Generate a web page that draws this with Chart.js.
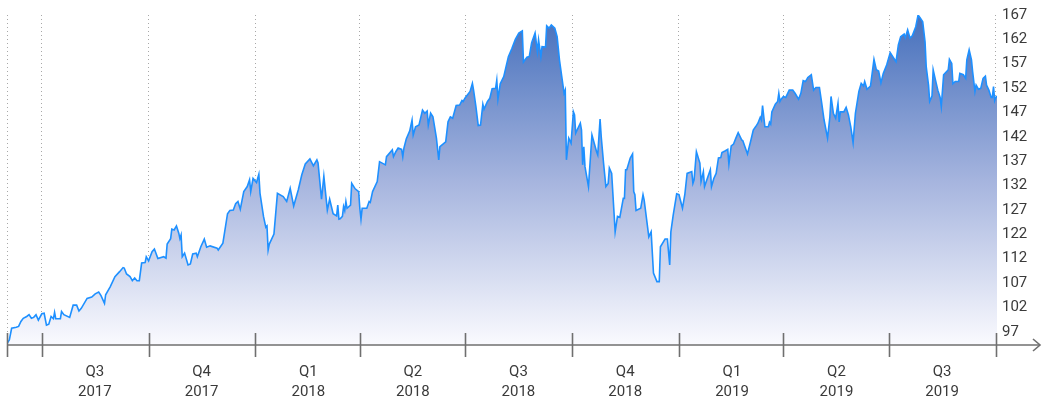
<!DOCTYPE html>
<html>
<head>
<meta charset="utf-8">
<script src="https://cdn.jsdelivr.net/npm/chart.js@4.4.1/dist/chart.umd.min.js"></script>
<style>
html,body{margin:0;padding:0;background:#fff;}
#wrap{width:1042px;height:402px;position:relative;}
</style>
</head>
<body>
<div id="wrap"><canvas id="c"></canvas></div>
<script>
// Day offsets counted from the series start date
const startDate = '2017-06-01';
const days = [
  0,2,4,8,10,12,14,17,19,21,
  23,25,27,30,32,34,36,38,40,41,
  42,46,47,49,54,57,60,62,64,69,
  73,76,79,81,84,85,89,93,97,100,
  101,103,106,108,110,112,114,116,119,120,
  122,125,127,130,135,137,138,141,142,144,
  146,148,149,150,151,153,156,158,160,163,
  164,167,170,172,175,181,182,186,190,192,
  195,197,199,201,204,207,209,210,212,215,
  217,218,221,223,224,225,226,230,233,238,
  241,244,247,251,254,257,261,264,267,268,
  271,273,276,278,281,284,285,286,287,289,
  290,291,292,293,296,297,300,303,304,305,
  306,310,312,313,315,319,321,326,327,332,
  333,335,337,340,341,342,344,347,349,350,
  352,355,358,360,362,363,365,367,370,372,
  373,378,380,382,384,387,390,392,393,395,
  399,401,402,404,406,408,410,411,414,416,
  418,421,422,423,425,428,430,432,435,438,
  441,444,445,448,450,452,455,457,458,460,
  461,464,465,467,469,472,474,476,478,480,
  481,482,484,486,488,489,490,494,495,496,
  497,498,501,504,508,509,511,512,514,516,
  518,519,521,524,526,528,531,532,533,534,
  537,539,540,541,542,546,548,549,553,555,
  557,560,562,563,567,569,571,572,574,577,
  579,582,584,586,590,591,592,594,597,598,
  600,601,606,607,609,611,613,615,616,619,
  621,622,624,626,628,630,633,634,638,641,
  643,645,647,649,650,651,653,656,657,658,
  659,662,664,665,666,667,669,671,674,677,
  679,682,684,686,688,690,693,695,697,700,
  702,704,707,709,710,712,714,716,717,718,
  721,723,725,727,729,731,734,736,738,739,
  741,744,747,749,751,753,755,758,761,766,
  768,770,773,774,776,778,780,783,785,787,
  789,791,792,794,795,797,798,800,802,804,
  805,807,810,811,812,814,815,817,820,821,
  824,826,827,829,831,832,834,835,837,839,
  841,843,844,846,848,849,850,851,852,853
];
const prices = [
  94.4,95.2,97.8,98.0,98.2,99.3,100.0,100.4,100.8,100.0,
  100.2,100.8,99.6,101.0,101.1,98.5,98.7,100.4,99.9,101.3,
  99.9,99.9,101.5,100.8,100.2,102.9,102.9,101.6,102.2,104.4,
  104.7,105.4,105.8,105.0,103.3,105.2,107.0,109.2,110.3,111.2,
  111.1,109.8,109.2,108.3,108.9,108.3,108.3,112.2,112.3,113.6,
  112.7,114.7,115.3,113.2,113.6,113.3,116.4,117.6,119.7,119.5,
  120.4,118.8,117.6,118.4,113.6,114.4,111.8,112.0,114.2,114.4,
  113.6,115.8,117.5,115.7,116.0,115.5,115.1,116.6,123.1,123.8,
  123.9,125.3,125.8,124.1,128.0,129.1,130.6,128.0,130.9,130.0,
  131.8,127.6,122.5,120.1,120.4,115.1,116.4,118.6,127.6,126.9,
  125.8,128.7,124.8,128.4,131.7,134.1,135.2,133.7,135.0,134.3,
  126.3,131.4,123.9,126.3,123.1,122.6,125.0,121.9,122.0,122.5,
  124.7,123.8,125.8,124.3,125.0,129.8,128.6,128.0,124.3,121.9,
  124.3,124.3,125.8,125.6,128.0,130.2,134.6,133.9,135.7,137.2,
  135.7,136.8,137.6,137.3,135.7,137.6,139.6,141.4,143.8,140.5,
  142.3,142.7,146.0,145.3,145.8,142.7,145.3,144.5,139.8,135.0,
  137.9,139.0,143.4,144.5,144.2,147.0,147.1,148.1,147.9,148.8,
  150.1,151.9,150.4,146.8,142.6,142.7,147.3,146.2,147.9,148.6,
  150.7,150.8,152.6,148.4,151.8,153.4,155.6,157.8,159.6,161.6,
  163.0,163.5,156.6,157.7,157.8,160.8,163.0,158.9,161.5,157.8,
  160.0,159.9,164.6,164.1,164.8,164.1,162.2,157.1,153.4,149.7,
  150.4,135.0,139.8,138.7,145.6,144.9,140.9,143.1,141.6,133.9,
  137.9,133.5,129.1,140.5,136.8,136.1,144.0,140.1,134.3,129.1,
  129.8,133.2,132.0,119.1,122.5,122.3,126.5,126.5,132.8,132.8,
  135.4,136.3,128.0,127.3,123.8,124.3,127.3,126.1,118.0,119.1,
  110.0,108.1,108.1,115.8,117.5,117.5,111.8,119.1,122.8,127.5,
  127.3,124.3,127.3,132.0,132.4,129.8,130.6,136.8,134.3,130.2,
  132.4,129.1,132.8,129.1,130.9,132.0,135.4,135.5,136.6,137.0,
  137.3,134.1,138.1,138.5,139.8,141.0,139.4,139.2,136.3,139.4,
  141.6,142.3,143.1,144.4,143.8,147.0,142.3,142.3,143.3,142.9,
  145.6,147.3,147.9,149.7,147.9,148.4,149.0,148.8,150.4,150.4,
  149.7,148.4,149.7,152.5,152.3,153.2,153.8,150.4,151.0,151.0,
  147.5,143.8,139.8,144.5,149.0,145.3,144.2,147.5,143.4,145.6,
  145.6,146.6,144.9,142.3,138.8,145.3,150.1,151.9,151.3,152.3,
  150.6,151.3,157.2,154.9,154.6,152.0,154.1,156.0,158.7,156.7,
  160.4,162.2,162.8,162.0,163.7,161.9,162.4,164.4,167.0,166.3,
  165.5,161.1,155.6,151.5,147.9,149.1,154.9,152.6,150.4,148.8,
  146.8,153.8,154.6,154.9,157.2,156.3,151.8,152.3,152.3,154.1,
  153.8,153.0,157.1,159.3,157.1,154.5,150.1,151.5,150.6,150.8,
  153.0,153.5,151.5,150.4,148.8,148.8,151.2,148.1,148.8,149.1
];

// Quarter boundaries (day offsets from startDate) and their labels
const boundaryDays = [0, 30, 122, 214, 304, 395, 487, 579, 669, 760, 852];
const quarterNames = ['Q3','Q4','Q1','Q2','Q3','Q4','Q1','Q2','Q3'];
const quarterYears = ['2017','2017','2018','2018','2018','2018','2019','2019','2019'];

// Right-hand axis labels, top to bottom (as printed in the original)
const yTickLabels = ['167','162','157','152','147','142','137','132','127','122','112','107','102','97'];
const yTopValue = 167;
const yBottomLabelValue = 97;
const yAxisMin = 94.1;

const yTickValues = yTickLabels.map((_, i) =>
  yBottomLabelValue + i * (yTopValue - yBottomLabelValue) / (yTickLabels.length - 1));

const FONT = "Roboto, 'Noto Sans', 'DejaVu Sans', sans-serif";
const TEXT = '#3a3a3a';
const AXIS = '#6f6f6f';

const axisPlugin = {
  id: 'axisArrow',
  afterDatasetsDraw(chart) {
    const { ctx, chartArea, scales } = chart;
    const xs = scales.x;
    const y0 = chartArea.bottom;
    ctx.save();
    ctx.strokeStyle = AXIS;
    ctx.lineWidth = 1.6;
    ctx.beginPath();
    ctx.moveTo(chartArea.left, y0);
    ctx.lineTo(chart.width - 2, y0);
    ctx.stroke();
    ctx.beginPath();
    ctx.moveTo(chart.width - 9, y0 - 6);
    ctx.lineTo(chart.width - 2, y0);
    ctx.lineTo(chart.width - 9, y0 + 6);
    ctx.stroke();
    xs.ticks.forEach(t => {
      const px = Math.round(xs.getPixelForValue(t.value)) + 0.5;
      ctx.beginPath();
      ctx.moveTo(px, y0 - 12);
      ctx.lineTo(px, y0 + 12);
      ctx.stroke();
    });
    ctx.restore();
  }
};

new Chart(document.getElementById('c'), {
  type: 'line',
  data: {
    datasets: [{
      data: days.map((d, i) => ({ x: d, y: prices[i] })),
      borderColor: 'rgb(30,144,255)',
      borderWidth: 1.6,
      pointRadius: 0,
      tension: 0,
      fill: 'start',
      backgroundColor: (context) => {
        const chart = context.chart;
        const area = chart.chartArea;
        if (!area) return 'rgba(0,0,0,0)';
        const g = chart.ctx.createLinearGradient(0, area.top, 0, area.bottom);
        g.addColorStop(0, 'rgb(70,112,188)');
        g.addColorStop(0.5, 'rgb(165,180,222)');
        g.addColorStop(1, 'rgb(250,250,254)');
        return g;
      }
    }]
  },
  options: {
    responsive: true,
    maintainAspectRatio: false,
    animation: false,
    layout: { padding: { left: 7, top: 15, right: 0, bottom: 0 } },
    plugins: { legend: { display: false }, tooltip: { enabled: false } },
    scales: {
      x: {
        type: 'linear',
        min: 0,
        max: days[days.length - 1],
        afterBuildTicks: (scale) => { scale.ticks = boundaryDays.map(v => ({ value: v })); },
        afterFit: (scale) => { scale.height = 57; scale.paddingLeft = 0; scale.paddingRight = 0; },
        grid: { display: true, color: '#a8a8a8', lineWidth: 1, drawTicks: false },
        border: { display: false, dash: [1, 3] },
        ticks: {
          autoSkip: false,
          maxRotation: 0,
          minRotation: 0,
          labelOffset: 53,
          padding: 17,
          color: TEXT,
          font: { family: FONT, size: 15, lineHeight: 1.33 },
          callback: (v, i) => (i >= 1 && i <= quarterNames.length) ? [quarterNames[i - 1], quarterYears[i - 1]] : ''
        }
      },
      y: {
        position: 'right',
        min: yAxisMin,
        max: yTopValue,
        afterBuildTicks: (scale) => { scale.ticks = yTickValues.map(v => ({ value: v })); },
        afterFit: (scale) => { scale.width = 45; scale.paddingTop = 0; scale.paddingBottom = 0; },
        grid: { display: false, drawTicks: false },
        border: { display: false },
        ticks: {
          padding: 5,
          color: TEXT,
          font: { family: FONT, size: 15 },
          callback: (v, i) => yTickLabels[yTickLabels.length - 1 - i]
        }
      }
    }
  },
  plugins: [axisPlugin]
});
</script>
</body>
</html>
